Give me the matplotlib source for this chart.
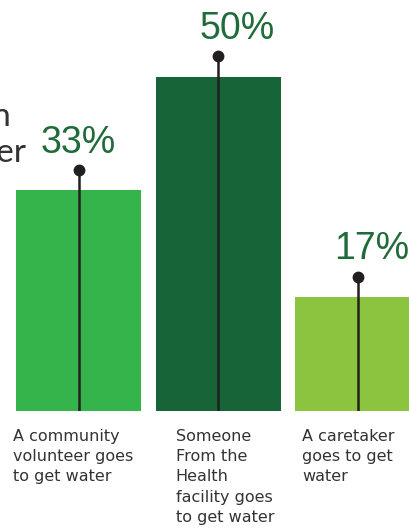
import matplotlib
matplotlib.use("Agg")
import matplotlib.pyplot as plt
import numpy as np

# who goes to get water
categories = ["A community\nvolunteer goes\nto get water",
              "Someone\nFrom the\nHealth\nfacility goes\nto get water",
              "A caretaker\ngoes to get\nwater"]
shares = [33, 50, 17]
share_labels = ["33%", "50%", "17%"]
bar_colors = ["#34b44a", "#166437", "#8cc43f"]

TEXT_GREEN = "#1f6b3a"
INK = "#231f20"

fig = plt.figure(figsize=(4.09, 5.30), dpi=100)
base = 119 / 530
ax = fig.add_axes([0, base, 1, 1 - base])
ax.set_axis_off()

x = np.arange(len(shares))
ax.bar(x, shares, width=0.896, color=bar_colors, zorder=1)
ax.set_xlim(-0.563, 2.369)
ax.set_ylim(0, 61.5)

dot_gap = 3.1      # units between bar top and dot
label_gap = 3.2    # units between dot and label baseline
label_dx = [0, 14, 10]  # small horizontal nudges in points
for xi, v, lab, dx in zip(x, shares, share_labels, label_dx):
    ax.plot([xi, xi], [0, v + dot_gap], color=INK, lw=1.8, zorder=2,
            solid_capstyle="butt")
    ax.plot(xi, v + dot_gap, "o", color=INK, ms=7.5, zorder=3)
    ax.annotate(lab, (xi, v + dot_gap + label_gap), xytext=(dx, -3),
                textcoords="offset points", ha="center", va="baseline",
                fontsize=27, color=TEXT_GREEN, family="Liberation Sans")

# category captions under each bar
cap_dx = [-3, 20, 7]
for xi, cat, dx in zip(x, categories, cap_dx):
    ax.annotate(cat, (xi - 0.448, 0), xytext=(dx * 0.72, -13),
                textcoords="offset points", ha="left", va="top",
                fontsize=11.5, color="#333333", family="DejaVu Sans",
                linespacing=1.43)

# heading runs off the left edge
fig.text(0.026, 1 - 126 / 530, "Who is the main person", ha="right",
         va="baseline", fontsize=24, color="#333333", family="Lato")
fig.text(0.064, 1 - 162 / 530, "who fetches water", ha="right",
         va="baseline", fontsize=24, color="#333333", family="Lato")

fig.savefig("out.png", dpi=100)
